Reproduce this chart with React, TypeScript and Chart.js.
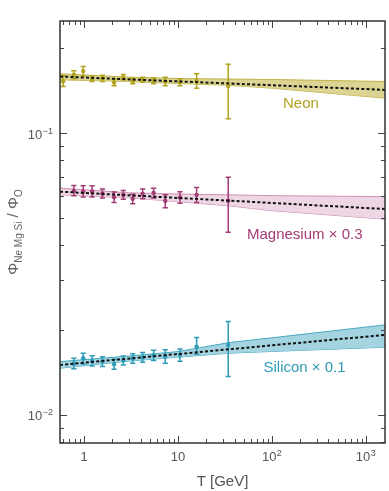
import React, { useEffect, useRef } from "react";
import { Chart, registerables } from "chart.js";
Chart.register(...registerables);

const FONT = "'Liberation Sans', Arial, Helvetica, sans-serif";

// Axis ranges and ticks
const X_MIN = 0.555;
const X_MAX = 1600;
const Y_MIN = 0.00795;
const Y_MAX = 0.25;
const X_MAJOR = [1, 10, 100, 1000];
const X_LABEL_BASE = ["1", "10", "10", "10"];
const X_LABEL_EXP = ["", "", "2", "3"];
const X_MINOR = [0.6, 0.7, 0.8, 0.9, 2, 3, 4, 5, 6, 7, 8, 9, 20, 30, 40, 50, 60, 70, 80, 90, 200, 300, 400, 500, 600, 700, 800, 900];
const Y_MAJOR = [0.01, 0.1];
const Y_LABEL_BASE = ["10", "10"];
const Y_LABEL_EXP = ["−2", "−1"];
const Y_MINOR = [0.008, 0.009, 0.02, 0.03, 0.04, 0.05, 0.06, 0.07, 0.08, 0.09, 0.2];

// Measured points (energies in GeV)
const NE_X = [0.60, 0.78, 0.98, 1.22, 1.57, 2.09, 2.62, 3.30, 4.21, 5.51, 7.33, 10.5, 15.8, 34.3];
const NE_Y = [0.1528, 0.1611, 0.1660, 0.1560, 0.1565, 0.1512, 0.1580, 0.1530, 0.1550, 0.1533, 0.1524, 0.1514, 0.1530, 0.1470];
const NE_LO = [0.1463, 0.1558, 0.1597, 0.1525, 0.1525, 0.1472, 0.1546, 0.1496, 0.1517, 0.1496, 0.1472, 0.1472, 0.1444, 0.1124];
const NE_HI = [0.1597, 0.1664, 0.1723, 0.1597, 0.1606, 0.1555, 0.1614, 0.1567, 0.1580, 0.1572, 0.1580, 0.1558, 0.1623, 0.1757];

const MG_X = [0.78, 0.98, 1.22, 1.57, 2.09, 2.62, 3.30, 4.21, 5.51, 7.33, 10.5, 15.8, 34.3];
const MG_Y = [0.0624, 0.0621, 0.0621, 0.0610, 0.0592, 0.0604, 0.0585, 0.0609, 0.0614, 0.0575, 0.0591, 0.0604, 0.0576];
const MG_LO = [0.0599, 0.0594, 0.0594, 0.0588, 0.0567, 0.0583, 0.0562, 0.0585, 0.0589, 0.0544, 0.0564, 0.0567, 0.0445];
const MG_HI = [0.0652, 0.0650, 0.0650, 0.0634, 0.0618, 0.0626, 0.0607, 0.0633, 0.0638, 0.0604, 0.0619, 0.0641, 0.0698];

const SI_X = [0.78, 0.98, 1.22, 1.57, 2.09, 2.62, 3.30, 4.21, 5.51, 7.33, 10.5, 15.8, 34.3];
const SI_Y = [0.01521, 0.01590, 0.01555, 0.01546, 0.01514, 0.01561, 0.01585, 0.01600, 0.01626, 0.01613, 0.01633, 0.01747, 0.01772];
const SI_LO = [0.01457, 0.01517, 0.01492, 0.01484, 0.01453, 0.01505, 0.01526, 0.01539, 0.01559, 0.01526, 0.01551, 0.01642, 0.01368];
const SI_HI = [0.01590, 0.01656, 0.01623, 0.01610, 0.01576, 0.01620, 0.01647, 0.01664, 0.01697, 0.01705, 0.01715, 0.01881, 0.02144];

// Fit bands
const BAND_X = [0.555, 3, 10, 35, 100, 1600];
const NE_BAND_HI = [0.1624, 0.1580, 0.1562, 0.1556, 0.1550, 0.1525];
const NE_BAND_LO = [0.1546, 0.1525, 0.1500, 0.1478, 0.1444, 0.1331];
const MG_BAND_HI = [0.0638, 0.0614, 0.0608, 0.0604, 0.0600, 0.0595];
const MG_BAND_LO = [0.0604, 0.0590, 0.0571, 0.0552, 0.0531, 0.0495];
const SI_BAND_HI = [0.01546, 0.01618, 0.01678, 0.01806, 0.01878, 0.02087];
const SI_BAND_LO = [0.01465, 0.01553, 0.01603, 0.01656, 0.01680, 0.01739];

// Best-fit dashed lines
const FIT_X = [0.555, 1600];
const NE_FIT = [0.1588, 0.1424];
const MG_FIT = [0.0620, 0.0538];
const SI_FIT = [0.01505, 0.01923];

const SERIES = [
  { name: "Neon", x: NE_X, y: NE_Y, lo: NE_LO, hi: NE_HI, bHi: NE_BAND_HI, bLo: NE_BAND_LO, fit: NE_FIT,
    color: "#b2a41e", fill: "rgba(214,204,128,0.85)", edge: "#bfb249", lx: 283, ly: 104 },
  { name: "Magnesium × 0.3", x: MG_X, y: MG_Y, lo: MG_LO, hi: MG_HI, bHi: MG_BAND_HI, bLo: MG_BAND_LO, fit: MG_FIT,
    color: "#a23c74", fill: "rgba(236,210,225,0.9)", edge: "#cf8fb3", lx: 247, ly: 235 },
  { name: "Silicon × 0.1", x: SI_X, y: SI_Y, lo: SI_LO, hi: SI_HI, bHi: SI_BAND_HI, bLo: SI_BAND_LO, fit: SI_FIT,
    color: "#2e9bb7", fill: "rgba(160,210,223,0.95)", edge: "#46a9c2", lx: 263.5, ly: 368 },
];

function powerWidth(ctx: any, base: string, exp: string) {
  ctx.font = `13px ${FONT}`;
  const wb = ctx.measureText(base).width;
  ctx.font = `9px ${FONT}`;
  const we = exp ? ctx.measureText(exp).width + 0.5 : 0;
  return [wb, we];
}

function drawPower(ctx: any, base: string, exp: string, x0: number, baseline: number) {
  const [wb] = powerWidth(ctx, base, exp);
  ctx.font = `13px ${FONT}`;
  ctx.fillText(base, x0, baseline);
  if (exp) {
    ctx.font = `9px ${FONT}`;
    ctx.fillText(exp, x0 + wb + 0.5, baseline - 5);
  }
}

const customPlugin = {
  id: "customDecor",
  afterDatasetDraw(chart: any, args: any) {
    const ds: any = chart.data.datasets[args.index];
    if (!ds.errLo) return;
    const ctx = chart.ctx;
    const xs = chart.scales.x;
    const ys = chart.scales.y;
    ctx.save();
    ctx.strokeStyle = ds.errColor;
    ctx.lineWidth = 1.5;
    ds.data.forEach((p: any, i: number) => {
      const px = xs.getPixelForValue(p.x);
      const y1 = ys.getPixelForValue(ds.errLo[i]);
      const y2 = ys.getPixelForValue(ds.errHi[i]);
      ctx.beginPath();
      ctx.moveTo(px, y1);
      ctx.lineTo(px, y2);
      ctx.moveTo(px - 2.6, y1);
      ctx.lineTo(px + 2.6, y1);
      ctx.moveTo(px - 2.6, y2);
      ctx.lineTo(px + 2.6, y2);
      ctx.stroke();
    });
    ctx.restore();
  },
  afterDraw(chart: any) {
    const ctx = chart.ctx;
    const { left, right, top, bottom } = chart.chartArea;
    const xs = chart.scales.x;
    const ys = chart.scales.y;
    ctx.save();
    // ticks
    ctx.strokeStyle = "#444";
    ctx.lineWidth = 1;
    const xt = (v: number, len: number) => {
      const px = Math.round(xs.getPixelForValue(v)) + 0.5;
      ctx.beginPath();
      ctx.moveTo(px, bottom);
      ctx.lineTo(px, bottom - len);
      ctx.moveTo(px, top);
      ctx.lineTo(px, top + len);
      ctx.stroke();
    };
    const yt = (v: number, len: number) => {
      const py = Math.round(ys.getPixelForValue(v)) + 0.5;
      ctx.beginPath();
      ctx.moveTo(left, py);
      ctx.lineTo(left + len, py);
      ctx.moveTo(right, py);
      ctx.lineTo(right - len, py);
      ctx.stroke();
    };
    X_MAJOR.forEach((v) => xt(v, 7));
    X_MINOR.forEach((v) => xt(v, 4));
    Y_MAJOR.forEach((v) => yt(v, 7));
    Y_MINOR.forEach((v) => yt(v, 4));
    // frame
    ctx.strokeStyle = "#333";
    ctx.lineWidth = 1.5;
    ctx.strokeRect(left, top, right - left, bottom - top);
    // tick labels
    ctx.fillStyle = "#555";
    ctx.textAlign = "left";
    ctx.textBaseline = "alphabetic";
    X_MAJOR.forEach((v, i) => {
      const [wb, we] = powerWidth(ctx, X_LABEL_BASE[i], X_LABEL_EXP[i]);
      const px = xs.getPixelForValue(v);
      drawPower(ctx, X_LABEL_BASE[i], X_LABEL_EXP[i], px - (wb + we) / 2, 461);
    });
    Y_MAJOR.forEach((v, i) => {
      const [wb, we] = powerWidth(ctx, Y_LABEL_BASE[i], Y_LABEL_EXP[i]);
      const py = ys.getPixelForValue(v);
      drawPower(ctx, Y_LABEL_BASE[i], Y_LABEL_EXP[i], 53 - (wb + we), py + 5.5);
    });
    // series labels
    ctx.font = `15px ${FONT}`;
    ctx.textBaseline = "middle";
    SERIES.forEach((s) => {
      ctx.fillStyle = s.color;
      ctx.fillText(s.name, s.lx, s.ly);
    });
    // y axis title with subscripts
    const parts = [
      { t: "Φ", size: 15, dy: 0 },
      { t: "Ne Mg Si", size: 10, dy: 4 },
      { t: " / Φ", size: 15, dy: 0 },
      { t: "O", size: 10, dy: 4 },
    ];
    let total = 0;
    const widths = parts.map((p) => {
      ctx.font = `${p.size}px ${FONT}`;
      const w = ctx.measureText(p.t).width;
      total += w;
      return w;
    });
    ctx.translate(13, (top + bottom) / 2);
    ctx.rotate(-Math.PI / 2);
    ctx.fillStyle = "#666";
    ctx.textBaseline = "alphabetic";
    let cx = -total / 2;
    parts.forEach((p, i) => {
      ctx.font = `${p.size}px ${FONT}`;
      ctx.fillText(p.t, cx, 5 + p.dy);
      cx += widths[i];
    });
    ctx.restore();
  },
};

export default function App() {
  const ref = useRef<HTMLCanvasElement | null>(null);
  useEffect(() => {
    if (!ref.current) return;
    const datasets: any[] = [];
    SERIES.forEach((s) => {
      datasets.push({
        data: BAND_X.map((x, i) => ({ x, y: s.bHi[i] })),
        borderColor: s.edge, borderWidth: 1, pointRadius: 0, tension: 0,
        backgroundColor: s.fill, fill: "+1", order: 3,
      });
      datasets.push({
        data: BAND_X.map((x, i) => ({ x, y: s.bLo[i] })),
        borderColor: s.edge, borderWidth: 1, pointRadius: 0, tension: 0,
        fill: false, order: 3,
      });
    });
    SERIES.forEach((s) => {
      datasets.push({
        data: s.x.map((x, i) => ({ x, y: s.y[i] })),
        showLine: false, pointRadius: 2.2, pointBackgroundColor: s.color,
        pointBorderWidth: 0, borderColor: s.color, order: 2,
        errLo: s.lo, errHi: s.hi, errColor: s.color,
      });
    });
    SERIES.forEach((s) => {
      datasets.push({
        data: FIT_X.map((x, i) => ({ x, y: s.fit[i] })),
        borderColor: "#111", borderWidth: 2, borderDash: [3, 2.2],
        pointRadius: 0, tension: 0, fill: false, order: 1,
      });
    });
    const chart = new Chart(ref.current, {
      type: "line",
      data: { datasets },
      options: {
        animation: false,
        responsive: false,
        devicePixelRatio: 1,
        layout: { padding: { top: 21, right: 4, left: 0, bottom: 0 } },
        plugins: { legend: { display: false }, tooltip: { enabled: false } },
        scales: {
          x: {
            type: "logarithmic", min: X_MIN, max: X_MAX, position: "bottom",
            grid: { display: false, drawTicks: false },
            border: { display: false },
            ticks: { display: false },
            afterBuildTicks: (s: any) => { s.ticks = X_MAJOR.map((v) => ({ value: v })); },
            afterFit: (s: any) => { s.height = 48; },
            title: {
              display: true, text: "T [GeV]", color: "#555",
              font: { family: FONT, size: 15 }, padding: { top: 0, bottom: 0 },
            },
          },
          y: {
            type: "logarithmic", min: Y_MIN, max: Y_MAX, position: "left",
            grid: { display: false, drawTicks: false },
            border: { display: false },
            ticks: { display: false },
            afterBuildTicks: (s: any) => { s.ticks = Y_MAJOR.map((v) => ({ value: v })); },
            afterFit: (s: any) => { s.width = 60; },
          },
        },
      } as any,
      plugins: [customPlugin],
    });
    return () => chart.destroy();
  }, []);
  return (
    <div style={{ position: "absolute", left: 0, top: 0, width: 389, height: 491, background: "#fff" }}>
      <canvas ref={ref} width={389} height={491} style={{ display: "block" }} />
    </div>
  );
}
